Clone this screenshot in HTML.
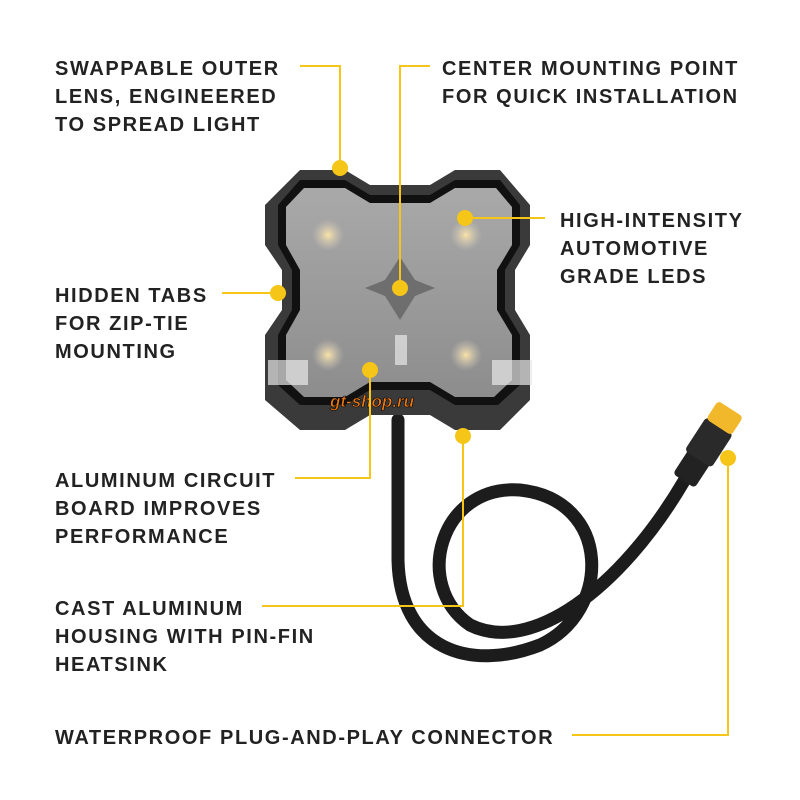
<!DOCTYPE html>
<html><head><meta charset="utf-8"><style>
html,body{margin:0;padding:0;background:#fff;}
svg{display:block}
text{font-family:"Liberation Sans",sans-serif;font-weight:bold;font-size:20px;fill:#222;letter-spacing:1.6px}
</style></head><body>
<svg width="800" height="800" viewBox="0 0 800 800" xmlns="http://www.w3.org/2000/svg">
<defs>
<radialGradient id="led" cx="50%" cy="50%" r="50%"><stop offset="0" stop-color="#fbe3a8"/><stop offset="1" stop-color="#cfc9bd" stop-opacity="0"/></radialGradient>
<linearGradient id="lens" x1="0" y1="0" x2="0" y2="1"><stop offset="0" stop-color="#a9a9a9"/><stop offset="1" stop-color="#8d8d8d"/></linearGradient>
</defs>
<!-- cable -->
<path d="M398 420 L398 560 C400 650 470 672 540 645 C612 612 612 500 520 490 C440 484 412 585 470 625 C530 655 620 590 684 481" fill="none" stroke="#1c1c1c" stroke-width="13" stroke-linecap="round"/>
<!-- connector -->
<g transform="translate(11,-31) rotate(-57 700 470)">
<rect x="650" y="457" width="30" height="26" rx="4" fill="#222"/>
<rect x="676" y="454" width="40" height="32" rx="4" fill="#2a2a2a"/>
<rect x="714" y="455" width="22" height="30" rx="4" fill="#f0b82a"/>
</g>
<!-- housing -->
<path d="M300 170 L345 170 L370 185 L430 185 L455 170 L500 170 L530 205 L530 245 L515 270 L515 310 L530 335 L530 400 L500 430 L455 430 L430 415 L370 415 L345 430 L300 430 L265 400 L265 335 L282 310 L282 270 L265 245 L265 205 Z" fill="#3a3a3a"/>
<path d="M300 180 L345 180 L370 195 L430 195 L455 180 L500 180 L520 205 L520 245 L505 270 L505 310 L520 335 L520 385 L498 405 L455 405 L430 390 L370 390 L345 405 L300 405 L278 385 L278 335 L292 310 L292 270 L278 245 L278 205 Z" fill="#111"/>
<path d="M304 188 L345 188 L370 203 L430 203 L455 188 L496 188 L512 207 L512 245 L497 270 L497 310 L512 335 L512 380 L494 397 L455 397 L430 382 L370 382 L345 397 L304 397 L286 380 L286 335 L300 310 L300 270 L286 245 L286 207 Z" fill="url(#lens)"/>
<rect x="268" y="360" width="40" height="25" fill="#e8e8e8" opacity="0.7"/>
<rect x="492" y="360" width="40" height="25" fill="#e8e8e8" opacity="0.7"/>
<circle cx="328" cy="235" r="16" fill="url(#led)"/>
<circle cx="466" cy="235" r="16" fill="url(#led)"/>
<circle cx="328" cy="355" r="16" fill="url(#led)"/>
<circle cx="466" cy="355" r="16" fill="url(#led)"/>
<path d="M400 257 L415 280 L435 288 L415 296 L400 320 L385 296 L365 288 L385 280 Z" fill="#6e6e6e"/>
<rect x="395" y="335" width="12" height="30" fill="#ddd" opacity="0.8"/>
<text x="330" y="407" style="font-style:italic;font-size:17px;fill:#f07a10;letter-spacing:0" stroke="#000" stroke-width="0.6">gt-shop.ru</text>
<!-- lines -->
<g stroke="#f5c518" stroke-width="2" fill="none">
<polyline points="300,66 340,66 340,168"/>
<polyline points="400,288 400,66 430,66"/>
<polyline points="465,218 545,218"/>
<polyline points="222,293 278,293"/>
<polyline points="370,370 370,478 295,478"/>
<polyline points="463,436 463,606 262,606"/>
<polyline points="728,458 728,735 572,735"/>
</g>
<g fill="#f5c518">
<circle cx="340" cy="168" r="8"/><circle cx="400" cy="288" r="8"/><circle cx="465" cy="218" r="8"/>
<circle cx="278" cy="293" r="8"/><circle cx="370" cy="370" r="8"/><circle cx="463" cy="436" r="8"/><circle cx="728" cy="458" r="8"/>
</g>
<text x="55" y="75">SWAPPABLE OUTER</text>
<text x="55" y="103">LENS, ENGINEERED</text>
<text x="55" y="131">TO SPREAD LIGHT</text>
<text x="442" y="75">CENTER MOUNTING POINT</text>
<text x="442" y="103">FOR QUICK INSTALLATION</text>
<text x="560" y="227">HIGH-INTENSITY</text>
<text x="560" y="255">AUTOMOTIVE</text>
<text x="560" y="283">GRADE LEDS</text>
<text x="55" y="302">HIDDEN TABS</text>
<text x="55" y="330">FOR ZIP-TIE</text>
<text x="55" y="358">MOUNTING</text>
<text x="55" y="487">ALUMINUM CIRCUIT</text>
<text x="55" y="515">BOARD IMPROVES</text>
<text x="55" y="543">PERFORMANCE</text>
<text x="55" y="615">CAST ALUMINUM</text>
<text x="55" y="643">HOUSING WITH PIN-FIN</text>
<text x="55" y="671">HEATSINK</text>
<text x="55" y="744">WATERPROOF PLUG-AND-PLAY CONNECTOR</text>
</svg>
</body></html>
